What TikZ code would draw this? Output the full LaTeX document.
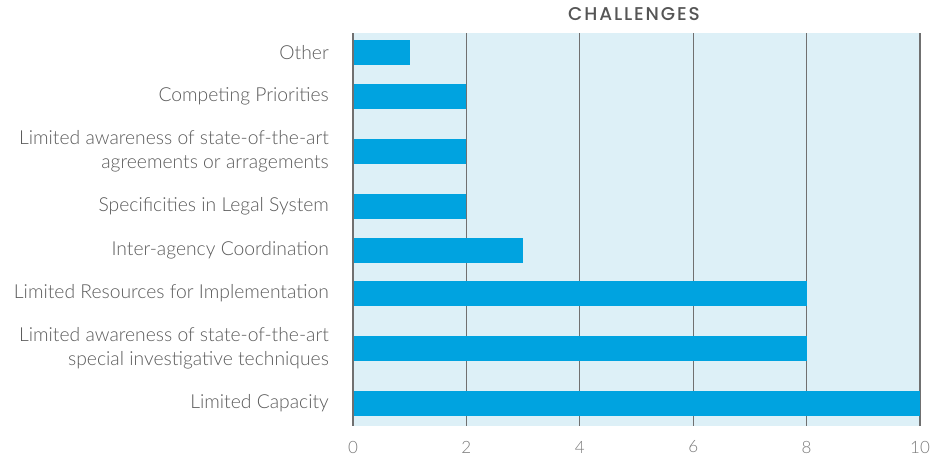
\documentclass[tikz,border=0pt]{standalone}
\usepackage{fontspec}
\setmainfont{Lato}
\newfontfamily\lblfont{Lato Light}
\newfontfamily\titlefont{Poppins Medium}[LetterSpace=10]
\definecolor{barblue}{HTML}{00A3E0}
\definecolor{plotbg}{HTML}{DDF0F7}
\definecolor{gridgray}{HTML}{707070}
\definecolor{lblgray}{HTML}{5A5A5A}
\definecolor{tickgray}{HTML}{7A7A7A}
\definecolor{titlegray}{HTML}{555555}
\begin{document}
\begin{tikzpicture}[x=1pt,y=-1pt,
  catlabel/.style={anchor=east,align=right,font=\lblfont\fontsize{19.3}{24}\selectfont,text=lblgray,inner sep=0pt},
  ticklabel/.style={anchor=center,font=\lblfont\fontsize{17}{18}\selectfont,text=tickgray,inner sep=0pt},
  bar/.style={fill=barblue},
  gridline/.style={draw=gridgray,line width=1.1pt}]
\useasboundingbox (0,0) rectangle (934,455);
% plot background
\fill[plotbg] (353,33) rectangle (920,426);
% grid lines
\foreach \v in {2,4,6,8,10}{
  \draw[gridline] ({353+\v*56.7},33) -- ({353+\v*56.7},426);
}
% bars
\foreach \v/\t in {1/40,2/84,2/139,2/194,3/238,8/281,8/336,10/391}{
  \fill[bar] (353,\t) rectangle ({353+\v*56.7},\t+25);
}
% axis
\draw[draw=gridgray,line width=1.6pt] (353,33) -- (353,426);
% title
\node[font=\titlefont\fontsize{18.5}{20}\selectfont,text=titlegray,inner sep=0pt] (title) at (634,14) {CHALLENGES};
% category labels
\node[catlabel] (l1) at (329,52.5) {Other};
\node[catlabel] (l2) at (329,96.5) {Competing Priorities};
\node[catlabel] (l3) at (329,151) {Limited awareness of state-of-the-art\\agreements or arragements};
\node[catlabel] (l4) at (329,206.5) {Specificities in Legal System};
\node[catlabel] (l5) at (329,250.5) {Inter-agency Coordination};
\node[catlabel] (l6) at (329,293.5) {Limited Resources for Implementation};
\node[catlabel] (l7) at (329,348) {Limited awareness of state-of-the-art\\special investigative techniques};
\node[catlabel] (l8) at (329,403.5) {Limited Capacity};
% tick labels
\foreach \v in {0,2,4,6,8,10}{
  \node[ticklabel] (t\v) at ({353+\v*56.7},447) {\v};
}
\end{tikzpicture}
\end{document}
